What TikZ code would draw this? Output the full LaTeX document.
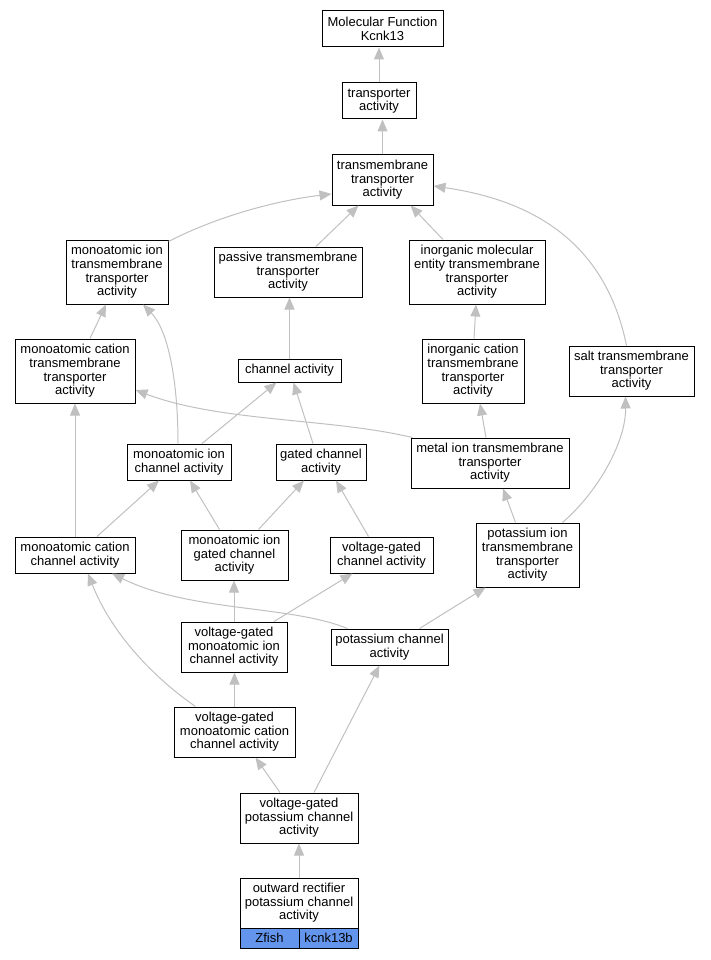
\documentclass[tikz,border=0pt]{standalone}
\usepackage{fontspec}
\setmainfont{Liberation Sans}
\usetikzlibrary{arrows.meta}
\definecolor{edgegray}{HTML}{C0C0C0}
\definecolor{cellblue}{HTML}{6495ED}
\tikzset{
  box/.style={draw=black, line width=1pt, inner sep=0pt, align=center, fill=white,
    font=\fontsize{13}{13.6}\selectfont},
  cell/.style={box, fill=cellblue, minimum width=59pt, minimum height=20pt},
  edge/.style={draw=edgegray, line width=1pt, -{Triangle[length=12pt,width=10pt,fill=edgegray]}},
}
\newcommand{\bx}[6]{\node[box, minimum width=#4pt, minimum height=#5pt] (#1) at (#2,#3) {#6};}
\begin{document}
\begin{tikzpicture}[x=1pt,y=-1pt]
\useasboundingbox (0,0) rectangle (711,960);
% edges first (under nodes)
\bx{mf}{382.5}{29}{121}{36}{Molecular Function\\Kcnk13}
\bx{ta}{379}{101}{74}{36}{transporter\\activity}
\bx{tta}{382.5}{180}{101}{50}{transmembrane\\transporter\\activity}
\bx{mitta}{117}{272}{102}{64}{monoatomic ion\\transmembrane\\transporter\\activity}
\bx{ptta}{288}{272}{148}{50}{passive transmembrane\\transporter\\activity}
\bx{imetta}{477}{272}{136}{64}{inorganic molecular\\entity transmembrane\\transporter\\activity}
\bx{mctta}{75}{371}{120}{64}{monoatomic cation\\transmembrane\\transporter\\activity}
\bx{ca}{289.5}{370.5}{103}{23}{channel activity}
\bx{icta}{473}{371}{102}{64}{inorganic cation\\transmembrane\\transporter\\activity}
\bx{salt}{631.5}{371}{125}{50}{salt transmembrane\\transporter\\activity}
\bx{mica}{179}{462}{104}{36}{monoatomic ion\\channel activity}
\bx{gca}{321}{462}{90}{36}{gated channel\\activity}
\bx{metal}{490}{463}{158}{50}{metal ion transmembrane\\transporter\\activity}
\bx{mcca}{75}{555}{120}{36}{monoatomic cation\\channel activity}
\bx{migca}{234.5}{555}{107}{50}{monoatomic ion\\gated channel\\activity}
\bx{vgca}{381.5}{555}{103}{36}{voltage-gated\\channel activity}
\bx{kitta}{527.5}{555}{103}{64}{potassium ion\\transmembrane\\transporter\\activity}
\bx{vgmica}{234}{647}{106}{50}{voltage-gated\\monoatomic ion\\channel activity}
\bx{kca}{389.5}{647}{117}{36}{potassium channel\\activity}
\bx{vgmcca}{234.5}{732}{121}{50}{voltage-gated\\monoatomic cation\\channel activity}
\bx{vgkca}{299}{818}{118}{50}{voltage-gated\\potassium channel\\activity}
\bx{orpca}{299}{903}{118}{50}{outward rectifier\\potassium channel\\activity}
\node[cell] (zfish) at (269.5,938) {Zfish};
\node[cell] (kcnk) at (328.5,938) {kcnk13b};

\begin{scope}[on background layer/.style={}]
\draw[edge] (ta.north) -- (ta.north |- mf.south);
\draw[edge] (tta.north) -- (tta.north |- ta.south);
\draw[edge] ([yshift=-2]mitta.north east) .. controls (220,215) and (280,200) .. ([yshift=-14]tta.west);
\draw[edge] ([xshift=28]ptta.north) -- ([xshift=-24]tta.south);
\draw[edge] ([xshift=-34]imetta.north) -- ([xshift=28]tta.south);
\draw[edge] ([xshift=-5]salt.north) .. controls (605,240) and (530,200) .. ([yshift=-6]tta.east);
\draw[edge] ([xshift=15]mctta.north) -- ([xshift=-11]mitta.south);
\draw[edge] (ca.north) -- (ca.north |- ptta.south);
\draw[edge] ([xshift=1]icta.north) -- ([xshift=-1]imetta.south);
\draw[edge] ([xshift=-1]mica.north) .. controls (178,380) and (168,330) .. ([xshift=26]mitta.south);
\draw[edge] ([xshift=23]mica.north) -- ([xshift=-13]ca.south);
\draw[edge] ([xshift=-8]gca.north) -- ([xshift=4]ca.south);
\draw[edge] ([xshift=2]metal.north west) .. controls (330,418) and (220,422) .. ([yshift=-19]mctta.east);
\draw[edge] ([xshift=-4]metal.north) -- ([xshift=7]icta.south);
\draw[edge] (mcca.north) -- (mctta.south);
\draw[edge] ([xshift=22]mcca.north) -- ([xshift=-20]mica.south);
\draw[edge] ([xshift=-15]migca.north) -- ([xshift=11]mica.south);
\draw[edge] ([xshift=24]migca.north) -- ([xshift=-17]gca.south);
\draw[edge] ([xshift=-13]vgca.north) -- ([xshift=15]gca.south);
\draw[edge] ([xshift=-12]kitta.north) -- ([xshift=13]metal.south);
\draw[edge] ([xshift=35]kitta.north) .. controls (600,490) and (626,440) .. ([xshift=-6]salt.south);
\draw[edge] (vgmica.north) -- (vgmica.north |- migca.south);
\draw[edge] ([xshift=40]vgmica.north) -- ([xshift=-29]vgca.south);
\draw[edge] ([xshift=-42]kca.north) .. controls (290,605) and (190,612) .. ([xshift=37]mcca.south);
\draw[edge] ([xshift=30]kca.north) -- ([xshift=-42]kitta.south);
\draw[edge] (vgmcca.north) -- (vgmcca.north |- vgmica.south);
\draw[edge] ([xshift=-39]vgmcca.north) .. controls (150,675) and (110,630) .. ([xshift=13]mcca.south);
\draw[edge] ([xshift=-19]vgkca.north) -- ([xshift=21]vgmcca.south);
\draw[edge] ([xshift=15]vgkca.north) -- ([xshift=-10]kca.south);
\draw[edge] (orpca.north) -- (vgkca.south);
\end{scope}
\end{tikzpicture}
\end{document}
